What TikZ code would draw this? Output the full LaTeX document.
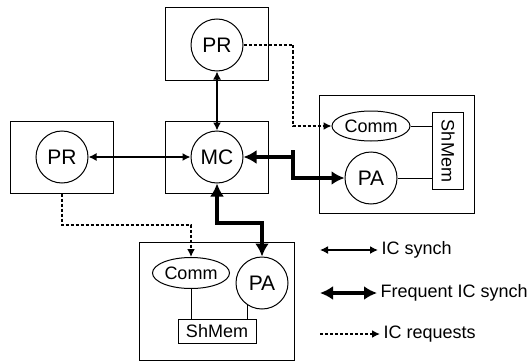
\documentclass[tikz,border=0pt]{standalone}
\usepackage{fontspec}
\setmainfont{Liberation Sans}
\usetikzlibrary{arrows.meta,shapes.geometric}
\tikzset{
  box/.style={draw,line width=1pt,inner sep=0pt},
  sync/.style={line width=1.5pt,{Latex[length=8pt,width=8pt]}-{Latex[length=8pt,width=8pt]}},
  fsync/.style={line width=3.8pt,{Latex[length=13pt,width=14pt]}-{Latex[length=13pt,width=14pt]}},
  req/.style={line width=1.6pt,dash pattern=on 3pt off 2pt,-{Latex[length=8pt,width=8pt]}}
}
\begin{document}
\begin{tikzpicture}[x=1pt,y=-1pt]

      \useasboundingbox (0,0) rectangle (529,361);

      \begin{scope}[every node/.style={box}]
        \node[minimum width=103pt,minimum height=72pt] (top)    at (216.5,44)  {};
        \node[minimum width=103pt,minimum height=72pt] (mid)    at (216.5,157) {};
        \node[minimum width=103pt,minimum height=72pt] (left)   at (62,157)    {};
        \node[minimum width=155pt,minimum height=118pt] (right) at (397,154)   {};
        \node[minimum width=155pt,minimum height=118pt] (bottom) at (216.5,301) {};
      \end{scope}

      \begin{scope}[every node/.style={circle,draw,line width=1pt,minimum size=52pt,inner sep=0pt,font=\fontsize{21}{21}\selectfont}]
        \node (pr1) at (217,45)  {PR};
        \node (pr2) at (62,157)  {PR};
        \node (mc)  at (217,157) {MC};
        \node (pa1) at (371,178) {PA};
        \node (pa2) at (262,283) {PA};
      \end{scope}

      \begin{scope}[every node/.style={draw,line width=1pt,inner sep=0pt,font=\fontsize{18}{18}\selectfont}]
        \node[ellipse,minimum width=78pt,minimum height=30pt] (comm1) at (371,126) {Comm};
        \node[ellipse,minimum width=77pt,minimum height=31pt] (comm2) at (191,273) {Comm};
        \node[minimum width=31pt,minimum height=77pt] (mem1) at (448,151) {};
        \node[draw=none,rotate=-90] (mem1text) at (mem1) {ShMem};
        \node[minimum width=78pt,minimum height=24pt] (mem2) at (217,331) {ShMem};
      \end{scope}

      \coordinate (b1) at (293,150);
      \coordinate (b2) at (240,223);
      \coordinate (b3) at (293,90);
      \coordinate (b4) at (120,225);

      \draw[sync] (pr1) -- (mc);
      \draw[sync] (pr2) -- (mc);
      \draw[fsync] (mc.east) -| (b1) |- (pa1.west);
      \draw[fsync] (mc.south) |- (b2) -| (pa2.north);
      \draw[req] (pr1.east) -| (b3) |- (comm1.west);
      \draw[req] (left.south) |- (b4) -| (comm2.north);

      \begin{scope}[line width=1pt]
        \draw (comm1.east) -- (comm1.east -| mem1.west);
        \draw (pa1.east) -- (pa1.east -| mem1.west);
        \draw (comm2.south) -- (comm2.south |- mem2.north);
        \draw (pa2.-124) -- (pa2.-124 |- mem2.north);
      \end{scope}

      % legend
      \begin{scope}[every node/.style={anchor=west,font=\fontsize{18}{18}\selectfont}]
        \coordinate (l1) at (320,250);
        \node (t1) at (378,250) {IC synch};
        \coordinate (l2) at (320,293);
        \node (t2) at (377,293) {Frequent IC synch};
        \coordinate (l3) at (320,334);
        \node (t3) at (380,334) {IC requests};
        \draw[sync]  (l1) -- (t1.west);
        \draw[fsync] (l2) -- (t2.west);
        \draw[req]   (l3) -- (t3.west);
      \end{scope}

    \end{tikzpicture}
\end{document}
